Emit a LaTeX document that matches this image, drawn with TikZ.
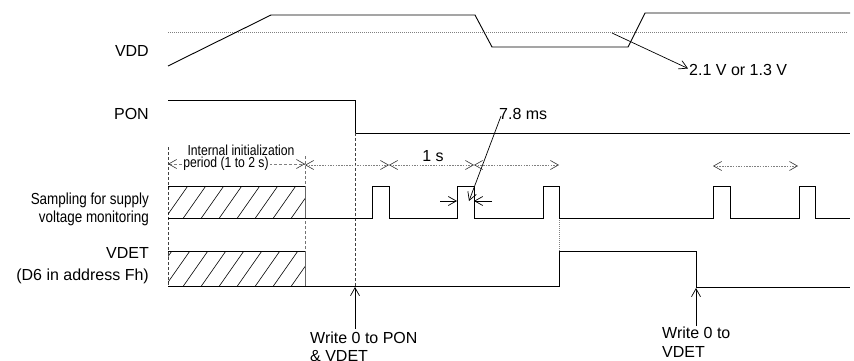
\documentclass[tikz,border=0pt]{standalone}
\usepackage{fontspec}
\setmainfont{Liberation Sans}
\newfontfamily\narrowfont[FakeStretch=0.84]{Liberation Sans}
\usetikzlibrary{arrows.meta}
\newcommand{\myhatch}[4]{%
  \begin{scope}
    \clip (#1,#2) rectangle (#3,#4);
    \foreach \k in {0,...,10} {\draw[line width=0.6pt] ({#1-22+\k*18},#4+2) -- ++(28,-40);}
  \end{scope}}
\begin{document}
\begin{tikzpicture}[x=1pt,y=-1pt,
  >={Straight Barb[length=8pt,width=9pt]},
  sig/.style={line width=0.9pt, line join=miter},
  lbl/.style={font=\fontsize{16}{19}\selectfont, inner sep=0pt},
  nlbl/.style={font=\narrowfont\fontsize{16}{18}\selectfont, inner sep=0pt},
  slbl/.style={font=\narrowfont\fontsize{14.5}{16}\selectfont, inner sep=0pt},
  guide/.style={black!75, line width=0.6pt, dash pattern=on 3pt off 2pt},
  thr/.style={gray, line width=0.6pt, dash pattern=on 1pt off 1pt},
  dimdot/.style={gray, line width=0.6pt, dash pattern=on 1.5pt off 1.2pt, <->, arrows={[black!80]}},
  dimdash/.style={gray, line width=0.6pt, dash pattern=on 3pt off 2pt, <->, arrows={[black!80]}},
  ptr/.style={line width=0.7pt, ->}
]
\useasboundingbox (0,0) rectangle (854,361);

% ---------- labels ----------
\node[lbl, anchor=base east] (lvdd) at (149,57) {VDD};
\node[lbl, anchor=base east] (lpon) at (149,119) {PON};
\node[nlbl, anchor=base east] (ls1) at (149,204) {Sampling for supply};
\node[nlbl, anchor=base east] (ls2) at (149,222) {voltage monitoring};
\node[lbl, anchor=base east] (lvdet) at (149,258) {VDET};
\node[lbl, anchor=base east] (ld6) at (149,280) {(D6 in address Fh)};

% ---------- VDD ----------
\draw[thr] (168,32) -- (848,32);
\draw[sig] (168,66) -- (271,15) -- (475,15) -- (492,47) -- (628,47) -- (645,13) -- (850,13);
\node[lbl, anchor=base west] (lvolt) at (689,75) {2.1 V or 1.3 V};
\coordinate (vfrom) at (612,33);
\draw[ptr] (vfrom) -- ([xshift=-1pt,yshift=1pt]lvolt.west);

% ---------- PON ----------
\draw[sig] (168,100) -- (355,100) -- (355,133) -- (850,133);

% ---------- guides ----------
\draw[guide] (168,147) -- (168,286);
\draw[guide, black!55] (305,156) -- (305,251);
\draw[guide] (355,133) -- (355,286);
\draw[thr] (559,218) -- (559,251);

% ---------- dimensions ----------
\draw[dimdash] (168,164) -- (305,164);
\node[slbl, anchor=base] (init1) at (241,155) {Internal initialization};
\node[slbl, fill=white, inner xsep=1.5pt, inner ysep=0pt] (init2) at (226,164) {period (1 to 2 s)};
\draw[dimdot] (305,165) -- (389,165);
\draw[dimdot] (389,165) -- (474,165);
\draw[dimdot] (474,165) -- (559,165);
\node[lbl, anchor=base] (lone) at (433,161) {1 s};
\draw[dimdot] (713,166) -- (798,166);

% ---------- sampling ----------
\myhatch{168}{186}{305}{218}
\draw[sig] (168,186) -- (305,186);
\draw[sig, black!60] (305,186) -- (305,218);
\draw[sig] (168,218) -- (372,218) -- (372,186) -- (389,186) -- (389,218) -- (457,218)
  -- (457,186) -- (474,186) -- (474,218) -- (543,218) -- (543,186) -- (559,186)
  -- (559,218) -- (713,218) -- (713,186) -- (730,186) -- (730,218) -- (799,218)
  -- (799,186) -- (815,186) -- (815,218) -- (850,218);

% 7.8 ms
\node[lbl, anchor=base west] (lms) at (499,119) {7.8 ms};
\coordinate (msfrom) at (501,116);
\coordinate (msto) at (469,201);
\draw[ptr] (msfrom) -- (msto);
\coordinate (al) at (440,201);
\coordinate (ar) at (492,201);
\draw[ptr] (al) -- (457,201);
\draw[ptr] (ar) -- (474,201);

% ---------- VDET ----------
\myhatch{168}{251}{305}{286}
\draw[sig] (168,251) -- (305,251);
\draw[sig, black!60] (305,251) -- (305,286);
\draw[sig] (168,286) -- (559,286) -- (559,251) -- (696,251) -- (696,287) -- (850,287);

% ---------- write annotations ----------
\node[lbl, anchor=base west] (w1a) at (310,343) {Write 0 to PON};
\node[lbl, anchor=base west] (w1b) at (310,361) {\& VDET};
\coordinate (w1from) at (355,329);
\draw[ptr] (w1from) -- (355,287);
\node[lbl, anchor=base west] (w2a) at (662,338) {Write 0 to};
\node[lbl, anchor=base west] (w2b) at (662,357) {VDET};
\coordinate (w2from) at (696,326);
\draw[ptr] (w2from) -- (696,288);
\end{tikzpicture}
\end{document}
